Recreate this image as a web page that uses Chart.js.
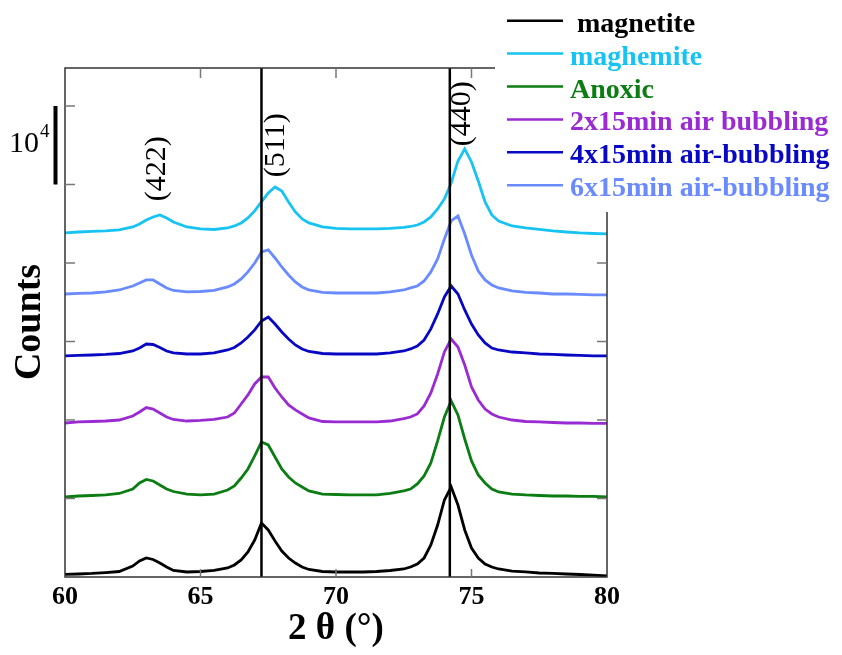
<!DOCTYPE html>
<html lang="en">
<head>
<meta charset="UTF-8">
<title>XRD patterns</title>
<script src="https://cdn.jsdelivr.net/npm/chart.js"></script>
<style>
  body { margin: 0; background: #fff; }
  #wrap { width: 842px; height: 655px; }
</style>
</head>
<body>
<div id="wrap"><canvas id="xrd"></canvas></div>

<script>
// 2 theta positions (degrees)
const twoTheta = [60, 60.5, 61, 61.5, 62, 62.5, 62.75, 63, 63.25, 63.5, 63.75, 64, 64.5, 65, 65.5, 66,
    66.25, 66.5, 66.75, 67, 67.25, 67.5, 67.75, 68, 68.25, 68.5, 68.75, 69, 69.5, 70, 70.5, 71, 71.5, 72,
    72.5, 72.75, 73, 73.25, 73.5, 73.75, 74, 74.25, 74.5, 74.75, 75, 75.25, 75.5, 75.75, 76, 76.5, 77,
    77.5, 78, 78.5, 79, 79.5, 80];

// counts (curves are stacked with an offset)
const magnetite = [340, 380, 450, 570, 700, 1400, 2040, 2420, 2230, 1780, 1270, 830, 640, 700, 830, 1150,
    1530, 2170, 3190, 4710, 6880, 5990, 4590, 3310, 2420, 1780, 1270, 960, 700, 640, 640, 640, 700, 830,
    1020, 1270, 1660, 2420, 4080, 6620, 9810, 11470, 9170, 5990, 3690, 2420, 1660, 1270, 1020, 760, 640,
    510, 450, 380, 320, 250, 130];
const anoxic = [10190, 10320, 10380, 10450, 10640, 11210, 11980, 12420, 12230, 11720, 11210, 10890, 10570,
    10450, 10570, 11080, 11590, 12610, 13760, 15420, 17200, 16820, 15290, 13760, 12740, 11980, 11470, 10960,
    10570, 10510, 10450, 10450, 10450, 10640, 10960, 11210, 11850, 12870, 14520, 17330, 20380, 22420, 20640,
    17580, 14780, 12990, 11980, 11210, 10830, 10570, 10450, 10380, 10320, 10320, 10260, 10260, 10190];
const air2x15 = [19620, 19750, 19810, 19870, 20000, 20510, 21020, 21590, 21400, 20890, 20380, 20070, 19870,
    19940, 20070, 20380, 20890, 22040, 23190, 24590, 25480, 25480, 24080, 22930, 21910, 21280, 20770, 20260,
    19810, 19750, 19750, 19750, 19750, 19870, 20190, 20380, 20770, 21790, 23440, 25860, 28670, 30320, 29300,
    27010, 24210, 22550, 21400, 20770, 20380, 20000, 19810, 19750, 19680, 19620, 19620, 19560, 19560];
const air4x15 = [28160, 28220, 28280, 28350, 28470, 28790, 29170, 29680, 29620, 29240, 28790, 28540, 28410,
    28410, 28540, 28920, 29240, 29810, 30580, 31470, 32610, 33120, 32230, 31210, 30320, 29560, 29050, 28730,
    28470, 28410, 28410, 28410, 28410, 28540, 28790, 29050, 29430, 30190, 31600, 33510, 35670, 37070, 36050,
    34020, 32230, 30830, 29810, 29170, 28920, 28660, 28540, 28410, 28350, 28280, 28220, 28160, 28160];
const air6x15 = [36050, 36120, 36180, 36310, 36560, 37070, 37460, 37840, 37840, 37330, 36820, 36500, 36310,
    36370, 36500, 36950, 37330, 37970, 38860, 40000, 41410, 41660, 40640, 39490, 38470, 37580, 36950, 36560,
    36250, 36180, 36180, 36180, 36180, 36310, 36560, 36820, 37070, 37710, 38860, 40510, 43060, 45350, 45990,
    43700, 41020, 38980, 37840, 37200, 36820, 36440, 36250, 36180, 36050, 36050, 35990, 35930, 35930];
const maghemite = [43830, 43950, 44020, 44080, 44210, 44590, 44970, 45480, 45860, 46120, 45740, 45230, 44590,
    44340, 44270, 44460, 44720, 45100, 45740, 46630, 47780, 48920, 49690, 49180, 47780, 46500, 45610, 45100,
    44590, 44400, 44340, 44340, 44340, 44400, 44530, 44650, 44840, 45230, 45860, 46880, 48160, 50200, 53000,
    54530, 52870, 50450, 47780, 46120, 45350, 44720, 44460, 44270, 44080, 43950, 43830, 43760, 43700];

const seriesNames = [' magnetite', 'maghemite', 'Anoxic', '2x15min air bubbling', '4x15min air-bubbling', '6x15min air-bubbling'];
const seriesData = [magnetite, maghemite, anoxic, air2x15, air4x15, air6x15];
const seriesColors = ['#000000', '#17c3f2', '#0b7d13', '#9a2bd3', '#0808c4', '#6a8bff'];

const xTicks = [60, 65, 70, 75, 80];
const yTicks = [0, 10000, 20000, 30000, 40000, 50000, 60000];
const yMax = 64840;

// reflections of magnetite
const peakLines = [67.25, 74.2];
const peakLabels = ['(422)', '(511)', '(440)'];
const peakLabelX = [63.4, 67.8, 74.65];
const peakLabelY = [52000, 55000, 59000];

const serif = '"Liberation Serif", "DejaVu Serif", serif';

const decor = {
    id: 'decor',
    afterDatasetsDraw(chart) {
        const { ctx, chartArea: a, scales: { x, y } } = chart;
        ctx.save();

        // vertical lines at magnetite peaks
        ctx.strokeStyle = '#000';
        ctx.lineWidth = 2.5;
        peakLines.forEach(v => {
            const px = x.getPixelForValue(v);
            ctx.beginPath(); ctx.moveTo(px, a.top); ctx.lineTo(px, a.bottom); ctx.stroke();
        });

        // frame
        ctx.strokeStyle = '#333';
        ctx.lineWidth = 1.5;
        ctx.strokeRect(a.left, a.top, a.right - a.left, a.bottom - a.top);

        // inward ticks
        ctx.strokeStyle = '#777';
        ctx.lineWidth = 1.5;
        yTicks.slice(1).forEach(v => {
            const py = y.getPixelForValue(v);
            ctx.beginPath(); ctx.moveTo(a.left, py); ctx.lineTo(a.left + 10, py); ctx.stroke();
            ctx.beginPath(); ctx.moveTo(a.right, py); ctx.lineTo(a.right - 10, py); ctx.stroke();
        });
        xTicks.slice(1, -1).forEach(v => {
            const px = x.getPixelForValue(v);
            ctx.beginPath(); ctx.moveTo(px, a.bottom); ctx.lineTo(px, a.bottom - 8); ctx.stroke();
            ctx.beginPath(); ctx.moveTo(px, a.top); ctx.lineTo(px, a.top + 10); ctx.stroke();
        });

        // peak labels
        ctx.fillStyle = '#000';
        ctx.font = '30px ' + serif;
        ctx.textAlign = 'center';
        ctx.textBaseline = 'middle';
        peakLabels.forEach((t, i) => {
            ctx.save();
            ctx.translate(x.getPixelForValue(peakLabelX[i]), y.getPixelForValue(peakLabelY[i]));
            ctx.rotate(-Math.PI / 2);
            ctx.fillText(t, 0, 0);
            ctx.restore();
        });

        // scale bar: 10^4 counts
        const y0 = y.getPixelForValue(50000), y1 = y.getPixelForValue(60000);
        ctx.strokeStyle = '#000';
        ctx.lineWidth = 4;
        ctx.beginPath(); ctx.moveTo(55.5, y0); ctx.lineTo(55.5, y1); ctx.stroke();
        ctx.textAlign = 'left';
        ctx.textBaseline = 'alphabetic';
        ctx.font = '30px ' + serif;
        ctx.fillText('10', 9, 152);
        ctx.font = '19px ' + serif;
        ctx.fillText('4', 40, 137);

        // y title
        ctx.save();
        ctx.translate(30, 322);
        ctx.rotate(-Math.PI / 2);
        ctx.textAlign = 'center';
        ctx.textBaseline = 'middle';
        ctx.font = 'bold 38px ' + serif;
        ctx.fillText('Counts', 0, 0);
        ctx.restore();

        // legend
        ctx.fillStyle = '#fff';
        ctx.fillRect(495, 0, 842 - 495, 212);
        ctx.font = 'bold 28px ' + serif;
        ctx.textAlign = 'left';
        chart.data.datasets.forEach((ds, i) => {
            const ly = 20.7 + 32.9 * i;
            ctx.strokeStyle = ds.borderColor;
            ctx.lineWidth = 2.5;
            ctx.beginPath(); ctx.moveTo(507, ly); ctx.lineTo(563, ly); ctx.stroke();
            ctx.fillStyle = ds.borderColor;
            ctx.fillText(ds.label, 570, ly + 11);
        });

        ctx.restore();
    }
};

new Chart(document.getElementById('xrd'), {
    type: 'line',
    data: {
        datasets: seriesNames.map((name, i) => ({
            label: name,
            data: twoTheta.map((t, j) => ({ x: t, y: seriesData[i][j] })),
            borderColor: seriesColors[i],
            borderWidth: 2.8,
            pointRadius: 0,
            tension: 0,
            fill: false
        }))
    },
    options: {
        responsive: true,
        maintainAspectRatio: false,
        animation: false,
        layout: { padding: { left: 65, top: 68, right: 235, bottom: 0 } },
        plugins: { legend: { display: false }, tooltip: { enabled: false } },
        scales: {
            x: {
                type: 'linear',
                min: 60,
                max: 80,
                ticks: {
                    stepSize: 5,
                    color: '#000',
                    padding: 5,
                    font: { family: serif, size: 26, weight: 'bold' }
                },
                grid: { display: false, drawTicks: false },
                border: { display: false },
                title: {
                    display: true,
                    text: '2 θ (°)',
                    color: '#000',
                    font: { family: serif, size: 37, weight: 'bold' },
                    padding: { top: 0, bottom: 3 }
                },
                afterFit(s) { s.height = 78; }
            },
            y: {
                type: 'linear',
                min: 0,
                max: yMax,
                display: false
            }
        }
    },
    plugins: [decor]
});
</script>
</body>
</html>
